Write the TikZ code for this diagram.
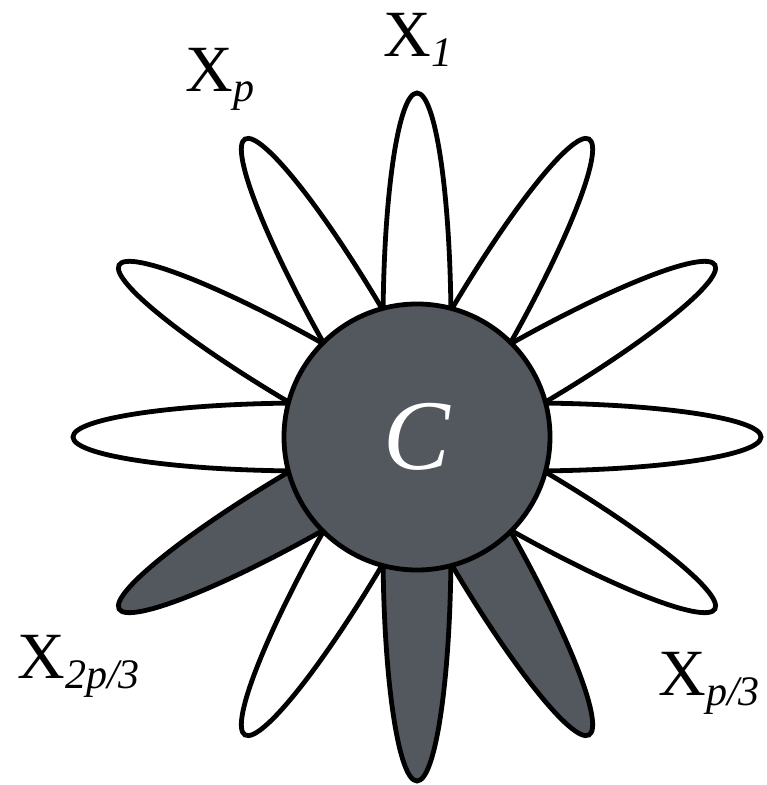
\documentclass[tikz,border=0pt]{standalone}
\usepackage{fontspec}
\setmainfont{Liberation Serif}
\usetikzlibrary{positioning}
\definecolor{coregray}{RGB}{83,87,94}
\newcommand{\xsub}[1]{X\raisebox{-5pt}{\fontsize{21}{24}\selectfont\itshape #1}}

\begin{document}
\begin{tikzpicture}[x=0.5pt, y=0.5pt,
    petal/.style={draw=black, line width=2.4pt, fill=white},
    darkpetal/.style={petal, fill=coregray},
    core/.style={circle, draw=black, line width=2.4pt, fill=coregray, inner sep=0pt,
      minimum size=133pt, text=white, font=\fontsize{50}{52}\selectfont\itshape},
    lbl/.style={anchor=base west, inner sep=0pt, font=\fontsize{33}{36}\selectfont}]
    \useasboundingbox (-417,-348) rectangle (349,437);
    % petals, clockwise from the top
    \foreach \k in {0,...,11} {
        \pgfmathsetmacro{\ang}{90-30*\k}
        \ifnum\k=5 \def\pstyle{darkpetal}\else
        \ifnum\k=6 \def\pstyle{darkpetal}\else
        \ifnum\k=8 \def\pstyle{darkpetal}\else \def\pstyle{petal}\fi\fi\fi
        \draw[\pstyle, rotate=\ang] (110,0) ellipse [x radius=234, y radius=34];
    }
    \node[core] (core) at (0,0) {C};
    % labels
    \node[lbl] (lab1) at (-34,380) {\xsub{1}};
    \node[lbl] (labp) at (-232,345) {\xsub{p}};
    \node[lbl] (lab2p3) at (-400,-241) {\xsub{2p/3}};
    \node[lbl] (labp3) at (241,-258) {\xsub{p/3}};
\end{tikzpicture}
\end{document}
